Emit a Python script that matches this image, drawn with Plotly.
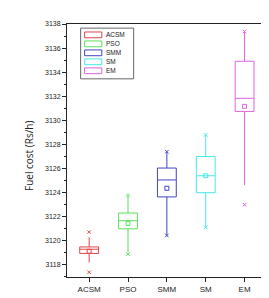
import plotly.graph_objects as go

categories = ["ACSM", "PSO", "SMM", "SM", "EM"]
q1 = [3118.92, 3120.97, 3123.62, 3123.97, 3130.73]
median = [3119.27, 3121.64, 3125.03, 3125.38, 3131.82]
q3 = [3119.46, 3122.28, 3126.02, 3126.98, 3134.90]
whisker_low = [3118.17, 3119.00, 3120.45, 3121.15, 3124.60]
whisker_high = [3120.27, 3123.70, 3127.35, 3128.75, 3137.35]
mean = [3119.10, 3121.42, 3124.34, 3125.38, 3131.15]
min_val = [3117.35, 3118.86, 3120.41, 3121.10, 3122.97]
max_val = [3120.70, 3123.74, 3127.38, 3128.78, 3137.38]
colors = ["#e04848", "#5ce05c", "#4444c4", "#48e8e8", "#e060e0"]
y_ticks = list(range(3118, 3139, 2))

W, H = 269, 298
ml, mr, mt, mb = 59, 12, 13, 22
ph = H - mt - mb
pw = W - ml - mr

fig = go.Figure()
for i, c in enumerate(categories):
    fig.add_trace(go.Box(
        x=[c], q1=[q1[i]], median=[median[i]], q3=[q3[i]],
        lowerfence=[whisker_low[i]], upperfence=[whisker_high[i]],
        line=dict(color=colors[i], width=1), fillcolor="rgba(255,255,255,0)",
        width=0.485, whiskerwidth=0, boxpoints=False, showlegend=False,
        hoverinfo="skip"))
    fig.add_trace(go.Scatter(
        x=[c], y=[mean[i]], mode="markers",
        marker=dict(symbol="square-open", size=4, color=colors[i], line=dict(width=1)),
        showlegend=False, hoverinfo="skip"))
    fig.add_trace(go.Scatter(
        x=[c, c], y=[min_val[i], max_val[i]], mode="markers",
        marker=dict(symbol="x-thin-open", size=3.5, color=colors[i], line=dict(width=1, color=colors[i])),
        showlegend=False, hoverinfo="skip"))

def py(px):
    return 1 - (px - mt) / ph

def pxx(px):
    return (px - ml) / pw

# custom legend
fig.add_shape(type="rect", xref="paper", yref="paper",
              x0=pxx(72.7), x1=pxx(126), y0=py(70), y1=py(17.3),
              line=dict(color="#666666", width=1), fillcolor="white")
for i, c in enumerate(categories):
    yc = 24.3 + 9.33 * i
    fig.add_shape(type="rect", xref="paper", yref="paper",
                  x0=pxx(76.7), x1=pxx(94), y0=py(yc + 3), y1=py(yc - 3),
                  line=dict(color=colors[i], width=1), fillcolor="rgba(0,0,0,0)")
    fig.add_annotation(x=pxx(96), y=py(yc), xref="paper", yref="paper",
                       text=c, showarrow=False, xanchor="left", yanchor="middle",
                       font=dict(family="Liberation Sans", size=6.5, color="#222222"))

# y-axis title
fig.add_annotation(x=pxx(21), y=py(150), xref="paper", yref="paper",
                   text="Fuel cost (Rs/h)", showarrow=False, textangle=-90,
                   xanchor="center", yanchor="middle",
                   font=dict(family="Open Sans", size=10, color="#222222"))

fig.update_layout(
    width=W, height=H, margin=dict(l=ml, r=mr, t=mt, b=mb),
    paper_bgcolor="white", plot_bgcolor="white",
    font=dict(family="Liberation Sans", color="#222222"),
)
fig.update_xaxes(
    type="category", categoryorder="array", categoryarray=categories,
    range=[-0.57, 4.5], showgrid=False, zeroline=False,
    showline=True, linecolor="#222222", linewidth=1, mirror=True,
    ticks="outside", ticklen=4, tickcolor="#222222", tickwidth=1,
    tickfont=dict(size=8, family="Liberation Sans"),
)
fig.update_yaxes(
    range=[3116.96, 3138], tickmode="array", tickvals=y_ticks,
    ticktext=[str(v) for v in y_ticks],
    showgrid=False, zeroline=False,
    showline=True, linecolor="#222222", linewidth=1, mirror=True,
    ticks="outside", ticklen=4, tickcolor="#222222", tickwidth=1,
    tickfont=dict(size=7, family="Liberation Sans"),
    minor=dict(dtick=1, tick0=3117, ticks="outside", ticklen=2, tickcolor="#222222", tickwidth=1, showgrid=False),
)
fig.write_html("out.html")
